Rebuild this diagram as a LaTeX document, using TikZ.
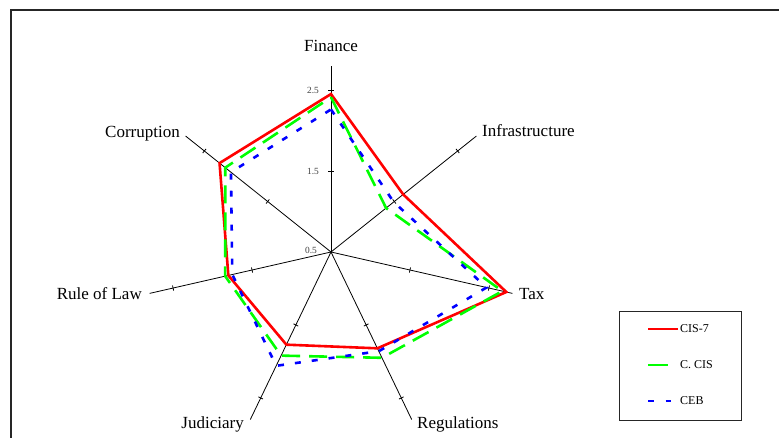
\documentclass[tikz,border=0pt]{standalone}
\usepackage{fontspec}
\setmainfont{Liberation Serif}
\usetikzlibrary{calc}
\begin{document}
\begin{tikzpicture}[x=1pt,y=1pt,
  axisline/.style={line width=0.8pt, black},
  tickmark/.style={line width=0.8pt, black},
  lbl/.style={font=\fontsize{17}{20}\selectfont, inner sep=0pt},
  ticklbl/.style={font=\fontsize{9.4}{10}\selectfont, text=black!75, inner sep=0pt, anchor=east},
  leglbl/.style={font=\fontsize{12}{14}\selectfont, inner sep=0pt, anchor=west},
  redline/.style={line width=2.6pt, red, line join=miter, line cap=butt},
  greenline/.style={line width=2.6pt, green, line join=miter, line cap=butt, dash pattern=on 18pt off 9pt},
  blueline/.style={line width=2.6pt, blue, line join=miter, line cap=butt, dash pattern=on 6pt off 11pt},
  framebox/.style={line width=2pt, black!85},
  legbox/.style={line width=0.9pt, black!85}]
\useasboundingbox (0,0) rectangle (779,438);
\clip (0,0) rectangle (779,438);
\fill[white] (0,0) rectangle (779,438);
% outer frame (runs off the right and bottom edges)
\coordinate (fbl) at (11,-10);
\coordinate (ftr) at (800,428);
\draw[framebox] (fbl) |- (ftr);
% centre
\coordinate (C) at (331,186);
% axes and ticks
\foreach \i in {0,...,6}{
  \pgfmathsetmacro{\ang}{90-\i*360/7}
  \coordinate (a\i) at ($(C)+(\ang:186)$);
  \draw[axisline] (C) -- (a\i);
  \foreach \r [count=\k] in {81,162}{
    \coordinate (t\i p\k) at ($(C)+(\ang:\r)+(\ang+90:2.6)$);
    \coordinate (t\i m\k) at ($(C)+(\ang:\r)+(\ang-90:2.6)$);
    \draw[tickmark] (t\i p\k) -- (t\i m\k);
  }
}
% tick labels
\node[ticklbl] (l25) at (319,348) {2.5};
\node[ticklbl] (l15) at (319,267) {1.5};
\node[ticklbl] (l05) at (317,188) {0.5};
% axis labels
\node[lbl, anchor=base] (nFin) at (331,386.3) {Finance};
\node[lbl, anchor=base west] (nInf) at (482,301.3) {Infrastructure};
\node[lbl, anchor=base west] (nTax) at (519,138) {Tax};
\node[lbl, anchor=base west] (nReg) at (417,9) {Regulations};
\node[lbl, anchor=base east] (nJud) at (244,9) {Judiciary};
\node[lbl, anchor=base east] (nRoL) at (142,138) {Rule of Law};
\node[lbl, anchor=base east] (nCor) at (180,300.3) {Corruption};
% data points
\foreach \v [count=\i from 0] in {2.45,1.64,2.72,1.82,1.77,1.80,2.26}{
  \coordinate (r\i) at ($(C)+({90-\i*360/7}:{(\v-0.5)*81})$);}
\foreach \v [count=\i from 0] in {2.41,1.37,2.67,1.95,1.92,1.84,2.17}{
  \coordinate (g\i) at ($(C)+({90-\i*360/7}:{(\v-0.5)*81})$);}
\foreach \v [count=\i from 0] in {2.26,1.49,2.47,1.86,2.06,1.75,2.08}{
  \coordinate (b\i) at ($(C)+({90-\i*360/7}:{(\v-0.5)*81})$);}
\draw[redline] (r0) -- (r1) -- (r2) -- (r3) -- (r4) -- (r5) -- (r6) -- cycle;
\draw[greenline] (g0) -- (g1) -- (g2) -- (g3) -- (g4) -- (g5) -- (g6) -- cycle;
\draw[blueline] (b0) -- (b1) -- (b2) -- (b3) -- (b4) -- (b5) -- (b6) -- cycle;
% legend
\coordinate (lgA) at (619,18);
\coordinate (lgB) at (741,127);
\draw[legbox] (lgA) rectangle (lgB);
\coordinate (lr1) at (648,109); \coordinate (lr2) at (678,109);
\coordinate (lg1) at (648,73);  \coordinate (lg2) at (668,73);
\coordinate (lb1) at (648,37);  \coordinate (lb2) at (671,37);
\draw[redline] (lr1) -- (lr2);
\draw[greenline, dash pattern=on 20pt off 10pt] (lg1) -- (lg2);
\draw[blueline, dash pattern=on 5.5pt off 12pt] (lb1) -- (lb2);
\node[leglbl] (tr) at (680,109) {CIS-7};
\node[leglbl] (tg) at (680,73) {C. CIS};
\node[leglbl] (tb) at (680,37) {CEB};
\end{tikzpicture}
\end{document}
